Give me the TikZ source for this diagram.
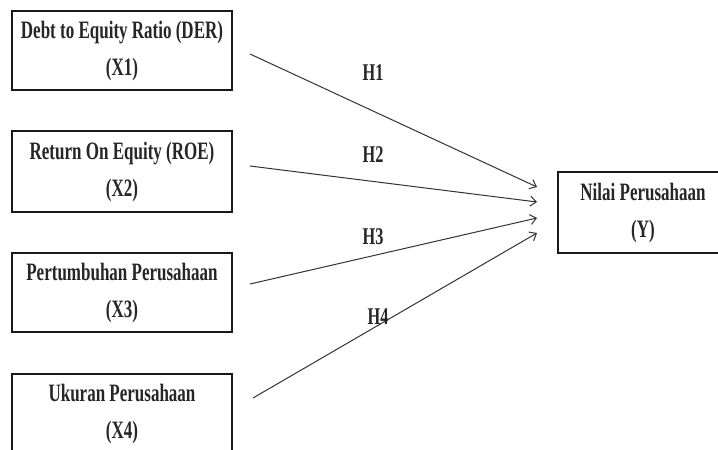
\documentclass[tikz,border=0pt]{standalone}
\usepackage{fontspec}
\setmainfont{Liberation Serif}[FakeStretch=0.68]
\usetikzlibrary{arrows.meta}
\begin{document}
\begin{tikzpicture}[x=1pt,y=-1pt,
  varbox/.style={draw=black!90,line width=2.4pt,minimum width=220pt,inner sep=0pt,
    align=center,font=\fontsize{25}{37}\selectfont\bfseries,text=black!85},
  hyp/.style={font=\fontsize{24}{26}\selectfont\bfseries,text=black!85},
  link/.style={draw=black!80,line width=1pt,-{Straight Barb[length=6pt,width=10pt,line width=1pt]}}]
\useasboundingbox (0,0) rectangle (718,450);
\clip (0,0) rectangle (718,450);
\fill[white] (0,0) rectangle (718,450);
\node[varbox,minimum height=79pt] (b1) at (122,50.5) {Debt to Equity Ratio (DER)\\(X1)};
\node[varbox,minimum height=81pt] (b2) at (122,171.5) {Return On Equity (ROE)\\(X2)};
\node[varbox,minimum height=79pt] (b3) at (122,292.5) {Pertumbuhan Perusahaan\\(X3)};
\node[varbox,minimum height=80pt,anchor=north] (b4) at (122,373) {Ukuran Perusahaan\\(X4)};
\node[varbox,minimum width=170pt,minimum height=81pt] (y) at (643,212.5) {Nilai Perusahaan\\(Y)};
\coordinate (s1) at (250,54);
\coordinate (s2) at (250,166);
\coordinate (s3) at (250,284);
\coordinate (s4) at (253,398);
\coordinate (e1) at (537,187);
\coordinate (e2) at (537,202);
\coordinate (e3) at (537,218);
\coordinate (e4) at (537,233);
\draw[link] (s1) -- (e1);
\draw[link] (s2) -- (e2);
\draw[link] (s3) -- (e3);
\draw[link] (s4) -- (e4);
\node[hyp] (h1) at (373,73) {H1};
\node[hyp] (h2) at (373,155) {H2};
\node[hyp] (h3) at (373,237) {H3};
\node[hyp] (h4) at (378,317) {H4};
\end{tikzpicture}
\end{document}
